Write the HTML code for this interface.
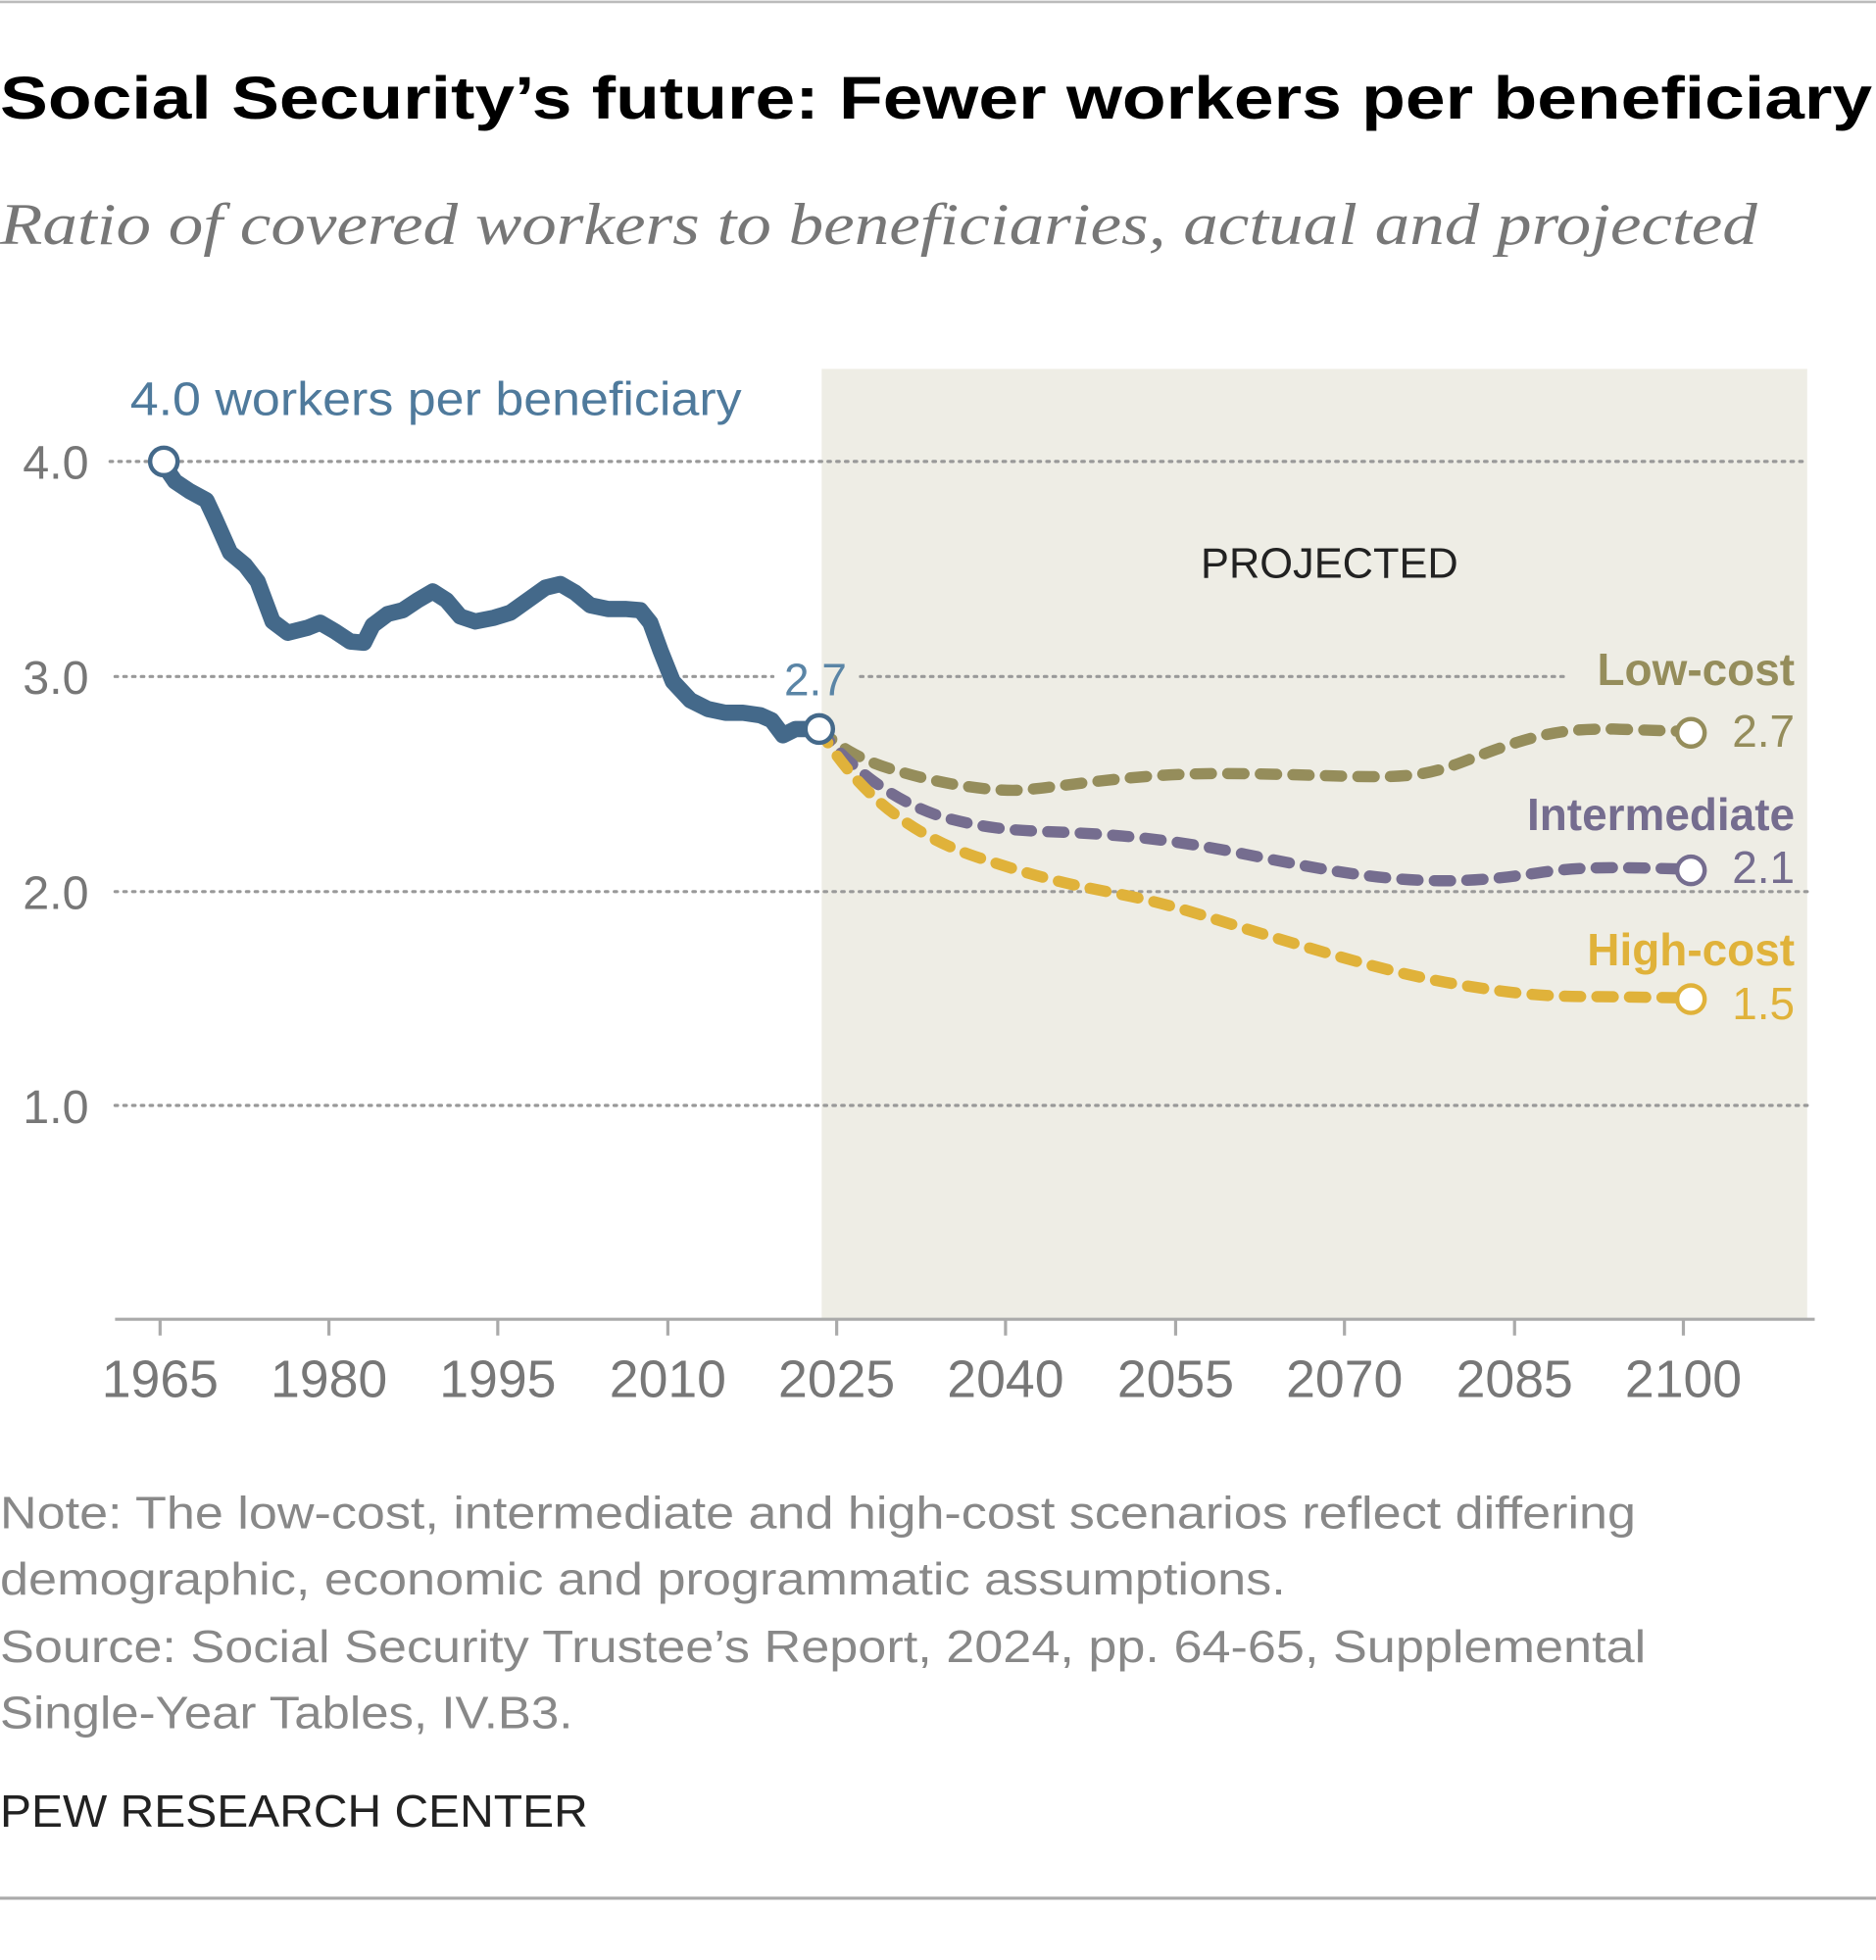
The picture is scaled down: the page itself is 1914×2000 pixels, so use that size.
<!DOCTYPE html>
<html><head><meta charset="utf-8"><style>
html,body{margin:0;padding:0;background:#fff;}
svg{display:block;}
</style></head><body>
<svg width="1914" height="2000" viewBox="0 0 1500 1567.4" preserveAspectRatio="none" xmlns="http://www.w3.org/2000/svg" font-family="'Liberation Sans', sans-serif">
<rect x="0" y="0" width="1500" height="1567.4" fill="#fff"/>
<line x1="0" y1="1.5" x2="1500" y2="1.5" stroke="#bbb" stroke-width="2"/>
<line x1="0" y1="1518" x2="1500" y2="1518" stroke="#aaa" stroke-width="2.5"/>
<text x="0" y="95" font-size="48" font-weight="bold" fill="#000" textLength="1497" lengthAdjust="spacingAndGlyphs">Social Security’s future: Fewer workers per beneficiary</text>
<text x="0" y="195" font-size="47" font-style="italic" font-family="'Liberation Serif', serif" fill="#777" textLength="1405" lengthAdjust="spacingAndGlyphs">Ratio of covered workers to beneficiaries, actual and projected</text>
<rect x="657" y="295" width="788" height="760" fill="#eeede5"/>
<g stroke="#999" stroke-width="2.5" stroke-dasharray="2 5" stroke-linecap="round">
<line x1="88" y1="369" x2="1445" y2="369"/>
<line x1="92" y1="541" x2="618" y2="541"/>
<line x1="688" y1="541" x2="1250" y2="541"/>
<line x1="92" y1="713" x2="1445" y2="713"/>
<line x1="92" y1="884" x2="1445" y2="884"/>
</g>
<g font-size="38" fill="#777" text-anchor="end">
<text x="71" y="383">4.0</text><text x="71" y="555">3.0</text><text x="71" y="727">2.0</text><text x="71" y="898">1.0</text>
</g>
<line x1="92" y1="1055" x2="1451" y2="1055" stroke="#aaa" stroke-width="2.5"/>
<g stroke="#aaa" stroke-width="2.5">
<line x1="128" y1="1055" x2="128" y2="1068"/><line x1="263" y1="1055" x2="263" y2="1068"/><line x1="398" y1="1055" x2="398" y2="1068"/><line x1="534" y1="1055" x2="534" y2="1068"/><line x1="669" y1="1055" x2="669" y2="1068"/><line x1="804" y1="1055" x2="804" y2="1068"/><line x1="940" y1="1055" x2="940" y2="1068"/><line x1="1075" y1="1055" x2="1075" y2="1068"/><line x1="1211" y1="1055" x2="1211" y2="1068"/><line x1="1346" y1="1055" x2="1346" y2="1068"/>
</g>
<g font-size="42" fill="#777" text-anchor="middle">
<text x="128" y="1117">1965</text><text x="263" y="1117">1980</text><text x="398" y="1117">1995</text><text x="534" y="1117">2010</text><text x="669" y="1117">2025</text><text x="804" y="1117">2040</text><text x="940" y="1117">2055</text><text x="1075" y="1117">2070</text><text x="1211" y="1117">2085</text><text x="1346" y="1117">2100</text>
</g>
<text x="1063" y="462" font-size="34" fill="#222" text-anchor="middle">PROJECTED</text>
<text x="104" y="332" font-size="38" fill="#4f7a9c" textLength="489" lengthAdjust="spacingAndGlyphs">4.0 workers per beneficiary</text>
<text x="652" y="556" font-size="36" fill="#5a85a6" text-anchor="middle">2.7</text>
<g fill="none" stroke-width="9" stroke-linecap="round" stroke-dasharray="13 13">
<path d="M655,583 C680,605 700,612 730,620 S790,632 810,632 S870,624 930,620 S1070,622 1110,621 S1160,612 1200,598 S1260,583 1290,583 L1350,585" stroke="#958d5b"/>
<path d="M655,583 C680,615 720,645 760,655 S820,664 860,666 S940,672 990,682 S1080,700 1120,703 S1190,704 1230,698 S1300,694 1350,695" stroke="#756d8f"/>
<path d="M655,583 C680,625 720,665 780,685 S860,708 900,716 S970,735 1020,750 S1120,780 1170,788 S1240,797 1280,797 L1350,798" stroke="#e0b23a"/>
</g>
<path d="M131,372 L140,385 L152,393 L165,400 L172,415 L184,442 L196,452 L206,465 L218,497 L230,506 L246,502 L256,498 L268,505 L280,513 L291,514 L298,500 L310,491 L322,488 L334,480 L346,473 L357,480 L368,493 L380,497 L395,494 L408,490 L422,480 L436,470 L448,467 L460,474 L472,484 L486,487 L500,487 L512,488 L520,498 L528,520 L538,545 L552,560 L566,567 L580,570 L594,570 L608,572 L617,576 L626,588 L636,583 L648,583" fill="none" stroke="#44698a" stroke-width="13" stroke-linejoin="round" stroke-linecap="round"/>
<g stroke-width="3.5" fill="#fff">
<circle cx="131" cy="369" r="11" stroke="#44698a"/>
<circle cx="655" cy="583" r="11" stroke="#44698a"/>
<circle cx="1352" cy="586" r="11" stroke="#958d5b"/>
<circle cx="1352" cy="696" r="11" stroke="#756d8f"/>
<circle cx="1352" cy="799" r="11" stroke="#e0b23a"/>
</g>
<g font-size="36" text-anchor="end">
<text x="1435" y="548" font-weight="bold" fill="#958d5b">Low-cost</text>
<text x="1435" y="597" fill="#958d5b">2.7</text>
<text x="1435" y="664" font-weight="bold" fill="#756d8f">Intermediate</text>
<text x="1435" y="706" fill="#756d8f">2.1</text>
<text x="1435" y="772" font-weight="bold" fill="#e0b23a">High-cost</text>
<text x="1435" y="815" fill="#e0b23a">1.5</text>
</g>
<g font-size="36" fill="#888">
<text x="0" y="1222" textLength="1308" lengthAdjust="spacingAndGlyphs">Note: The low-cost, intermediate and high-cost scenarios reflect differing</text>
<text x="0" y="1275" textLength="1028" lengthAdjust="spacingAndGlyphs">demographic, economic and programmatic assumptions.</text>
<text x="0" y="1329" textLength="1316" lengthAdjust="spacingAndGlyphs">Source: Social Security Trustee’s Report, 2024, pp. 64-65, Supplemental</text>
<text x="0" y="1382" textLength="458" lengthAdjust="spacingAndGlyphs">Single-Year Tables, IV.B3.</text>
</g>
<text x="0" y="1461" font-size="36" fill="#222" textLength="470" lengthAdjust="spacingAndGlyphs">PEW RESEARCH CENTER</text>
</svg>
</body></html>
